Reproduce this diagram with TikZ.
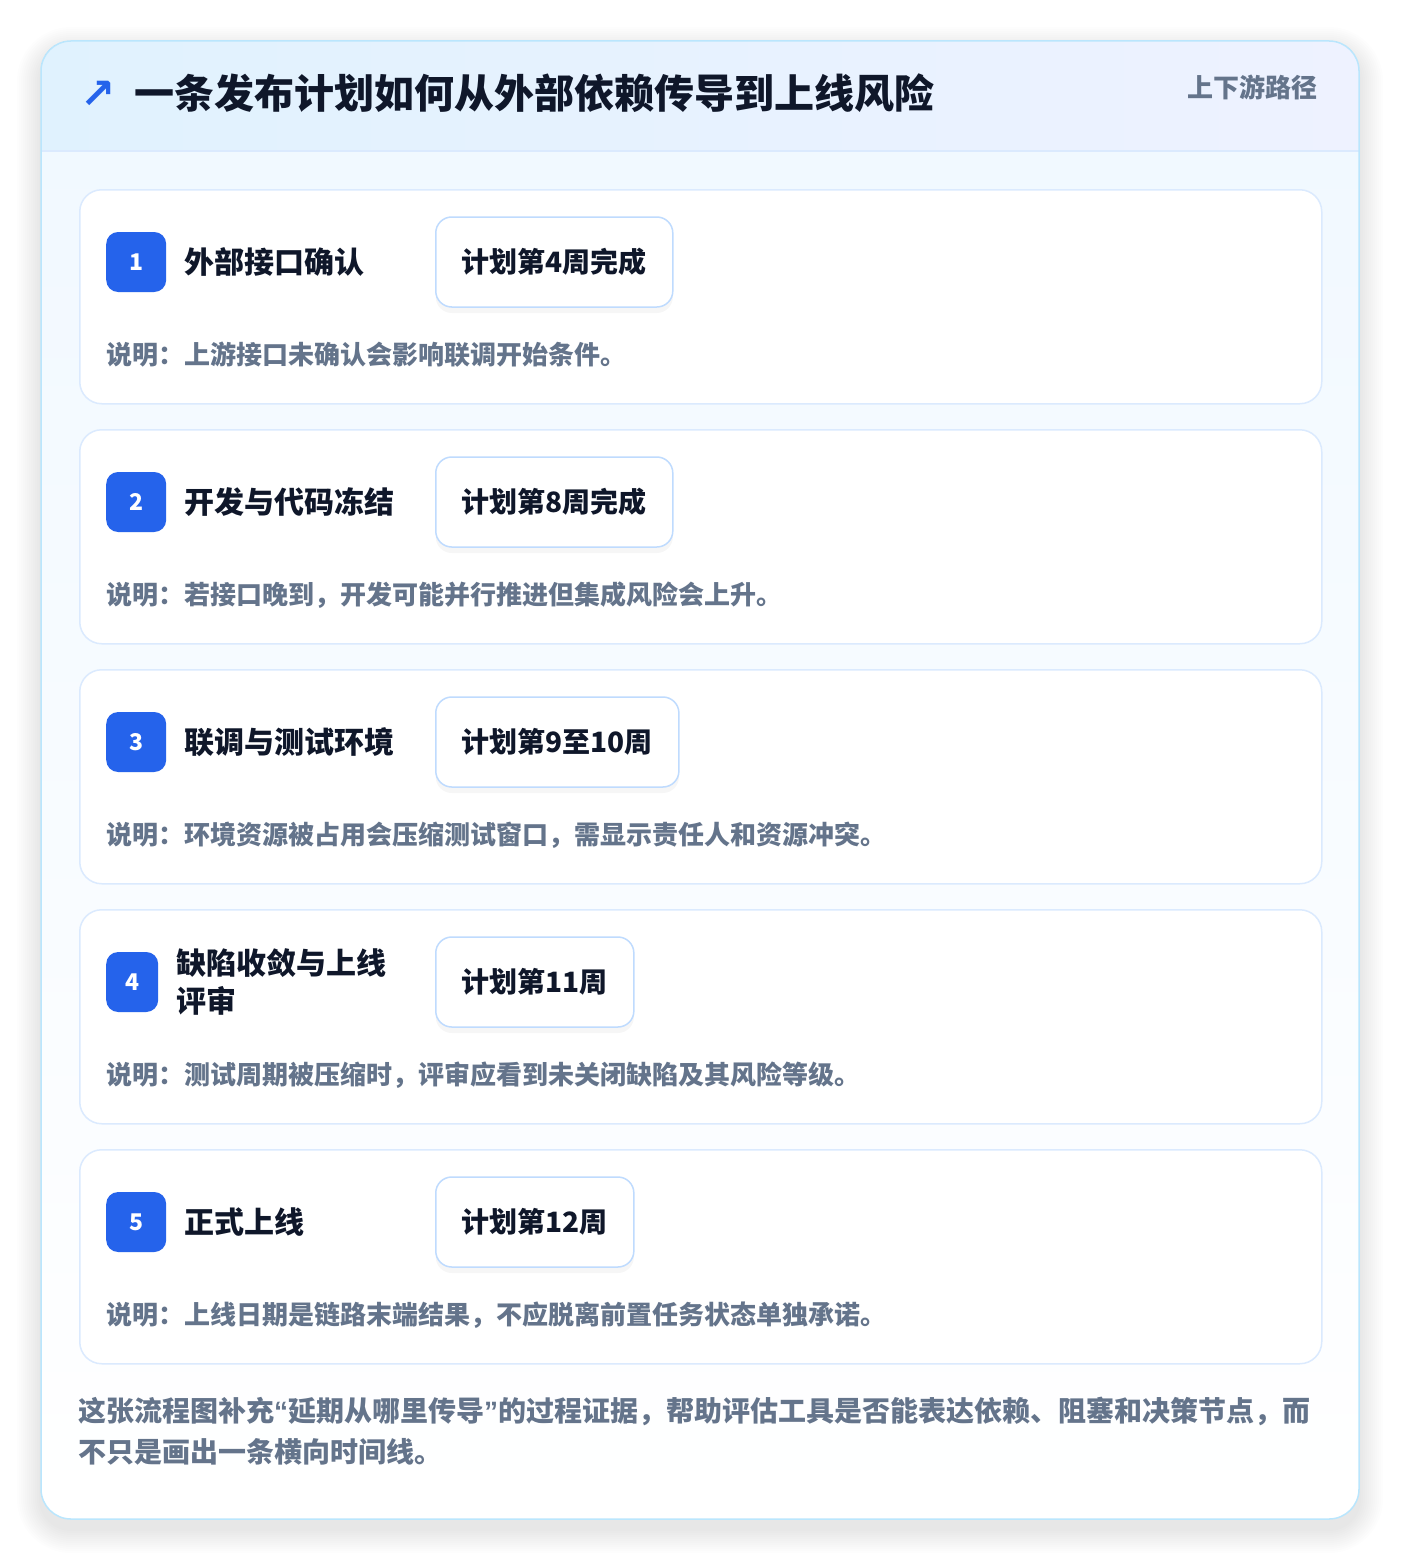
\documentclass[tikz,border=0pt]{standalone}
\usepackage{fontspec}
\setmainfont{Noto Sans CJK SC}
\newfontfamily\simbolo{DejaVu Sans}
\newfontfamily\latina{Liberation Sans}
\usetikzlibrary{positioning}

\definecolor{borde}{HTML}{BAE6FD}
\definecolor{bordetarj}{HTML}{DBEAFE}
\definecolor{bordeplan}{HTML}{BFDBFE}
\definecolor{cabA}{HTML}{E0F2FE}
\definecolor{cabB}{HTML}{EEF2FF}
\definecolor{cuerpo}{HTML}{F0F8FF}
\definecolor{azul}{HTML}{2563EB}
\definecolor{tinta}{HTML}{0F172A}
\definecolor{gris}{HTML}{64748B}

\begin{document}
\begin{tikzpicture}[x=1pt,y=-1pt,
    tarjeta/.style={draw=bordetarj, line width=1.5pt, fill=white, rounded corners=22pt,
      minimum width=1242pt, minimum height=214pt, inner sep=0pt},
    badge/.style={fill=azul, rounded corners=12pt, minimum height=60pt, inner sep=0pt,
      text=white, font=\bfseries\fontsize{23}{26}\selectfont},
    titulo/.style={text=tinta, font=\bfseries\fontsize{30}{38}\selectfont, inner sep=0pt, align=left},
    plan/.style={draw=bordeplan, line width=1.5pt, fill=white, rounded corners=16pt,
      minimum height=90pt, inner xsep=26pt, inner ysep=0pt, text=tinta,
      font=\bfseries\fontsize{28}{32}\selectfont,
      preaction={fill=black, opacity=0.035, transform canvas={yshift=-6pt}}},
    nota/.style={text=gris, font=\bfseries\fontsize{26}{30}\selectfont, inner sep=0pt},
  ]
  \useasboundingbox (0,0) rectangle (1400,1560);
  \fill[white] (0,0) rectangle (1400,1560);

  % sombra
  \foreach \s in {2,4,...,24}{
    \pgfmathsetmacro\r{30+\s}
    \fill[black, opacity=0.006, rounded corners=\r pt] (41-\s,51-\s) rectangle (1359+\s,1529+\s);
  }

  % tarjeta exterior
  \fill[top color=cuerpo, bottom color=white, rounded corners=30pt] (41,41) rectangle (1359,1519);
  \begin{scope}
    \clip[rounded corners=30pt] (41,41) rectangle (1359,1519);
    \fill[left color=cabA, right color=cabB] (41,41) rectangle (1359,151);
    \draw[bordetarj, line width=1.5pt] (41,151) -- (1359,151);
  \end{scope}
  \draw[borde, line width=1.5pt, rounded corners=30pt] (41,41) rectangle (1359,1519);

  % cabecera
  \node[anchor=west, inner sep=0pt, text=azul, font=\bfseries\fontsize{42}{48}\selectfont] (flecha) at (80,95) {\simbolo ↗};
  \node[anchor=west, inner sep=0pt, text=tinta, font=\bfseries\fontsize{40}{48}\selectfont] (cabecera) at (134,93) {一条发布计划如何从外部依赖传导到上线风险};
  \node[anchor=east, inner sep=0pt, text=gris, font=\bfseries\fontsize{26}{30}\selectfont] (etiqueta) at (1318,87) {上下游路径};

  % pasos
  \foreach \n/\bw/\tit/\plan/\nota [count=\k from 0] in {
      1/60/{外部接口确认}/{计划第4周完成}/{说明：上游接口未确认会影响联调开始条件。},
      2/60/{开发与代码冻结}/{计划第8周完成}/{说明：若接口晚到，开发可能并行推进但集成风险会上升。},
      3/60/{联调与测试环境}/{计划第9至10周}/{说明：环境资源被占用会压缩测试窗口，需显示责任人和资源冲突。},
      4/52/{缺陷收敛与上线\\评审}/{计划第11周}/{说明：测试周期被压缩时，评审应看到未关闭缺陷及其风险等级。},
      5/60/{正式上线}/{计划第12周}/{说明：上线日期是链路末端结果，不应脱离前置任务状态单独承诺。}}{
    \pgfmathsetmacro\ytop{189+240*\k}
    \node[tarjeta, anchor=north west] (card\n) at (79,\ytop) {};
    \node[badge, minimum width=\bw pt, anchor=west] (badge\n) at (106,\ytop+73) {\n};
    \node[titulo, anchor=west, right=18pt of badge\n] (tit\n) {\tit};
    \node[plan, anchor=west] (plan\n) at (435,\ytop+73) {\plan};
    \node[nota, anchor=west] (nota\n) at (106,\ytop+166) {\nota};
  }

  % pie
  \node[anchor=north west, inner sep=0pt, align=left, text=gris,
    font=\bfseries\fontsize{28}{41}\selectfont] (pie) at (78,1397)
    {这张流程图补充{\latina “}延期从哪里传导{\latina ”}的过程证据，帮助评估工具是否能表达依赖、阻塞和决策节点，而\\不只是画出一条横向时间线。};
\end{tikzpicture}
\end{document}
